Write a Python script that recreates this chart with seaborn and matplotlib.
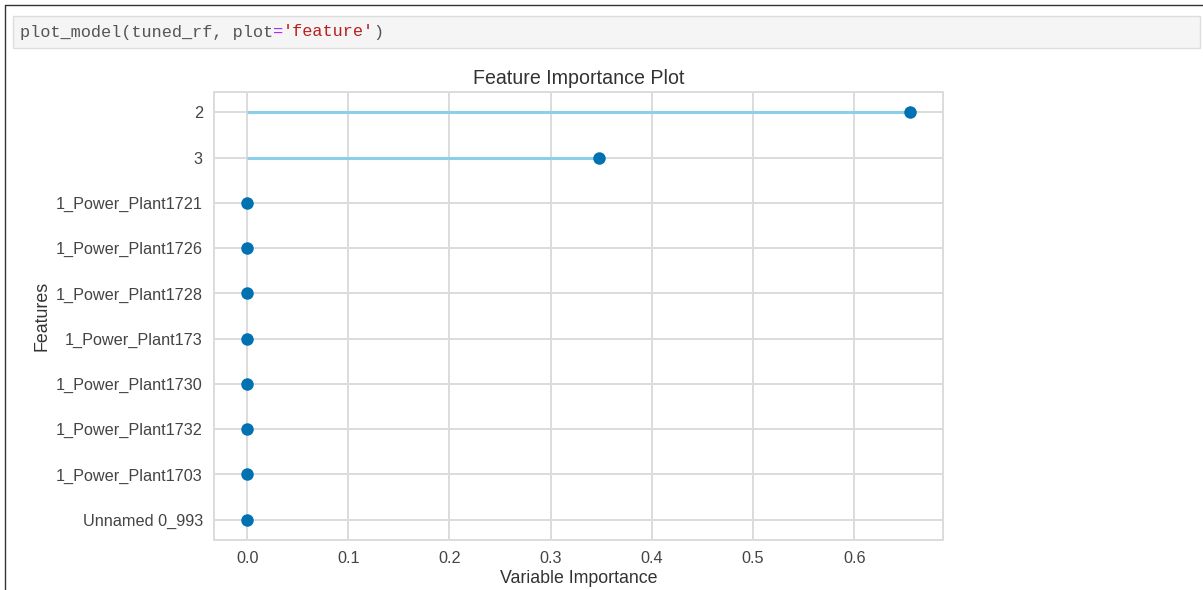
import matplotlib
matplotlib.use("Agg")
import matplotlib.pyplot as plt
from matplotlib.patches import FancyBboxPatch
from matplotlib.lines import Line2D
import seaborn as sns
import pandas as pd

features = ["2", "3", "1_Power_Plant1721", "1_Power_Plant1726", "1_Power_Plant1728",
            "1_Power_Plant173", "1_Power_Plant1730", "1_Power_Plant1732",
            "1_Power_Plant1703", "Unnamed 0_993"]
importance = [0.655, 0.348, 0.0, 0.0, 0.0, 0.0, 0.0, 0.0, 0.0, 0.0]
x_ticks = [0.0, 0.1, 0.2, 0.3, 0.4, 0.5, 0.6]

code_parts = [("plot_model(tuned_rf, plot", "#555555"),
              ("=", "#aa22ff"),
              ("'feature'", "#ba2121"),
              (")", "#555555")]

sns.set_style("whitegrid")
plt.rcParams["font.family"] = ["Liberation Sans", "DejaVu Sans"]

W, H = 1203, 590
fig = plt.figure(figsize=(W / 100, H / 100), dpi=100)
fig.patch.set_facecolor("white")

# notebook cell frame
fig.add_artist(Line2D([5 / W, 5 / W], [0, 1 - 5 / H], color="#333333", lw=1.0))
fig.add_artist(Line2D([5 / W, 1], [1 - 5 / H, 1 - 5 / H], color="#333333", lw=1.0))
fig.add_artist(FancyBboxPatch((13 / W, 1 - 48 / H), (1200 - 13) / W, 32 / H,
                              boxstyle="square,pad=0", facecolor="#f5f5f5",
                              edgecolor="#dddddd", lw=1.0))

# code line in the input cell
char_w = 10.1 / W
x0 = 20 / W
n = 0
for txt, col in code_parts:
    fig.text(x0 + n * char_w, 1 - 32 / H, txt, family="Liberation Mono",
             fontsize=12.2, color=col, va="center", ha="left")
    n += len(txt)

ax = fig.add_axes([214 / W, 1 - 540 / H, (943 - 214) / W, (540 - 92) / H])
df = pd.DataFrame({"Features": features, "Importance": importance})

ax.hlines(y=range(len(features)), xmin=0, xmax=df["Importance"],
          color="#8ccfe8", lw=2.2, zorder=2)
sns.stripplot(data=df, x="Importance", y="Features", orient="h", jitter=False,
              color="#0072B2", size=9, ax=ax, zorder=3, linewidth=0)

span = max(importance)
ax.set_xlim(-0.05 * span, span * 1.05)
ax.set_ylim(len(features) - 0.55, -0.45)
ax.set_xticks(x_ticks)
ax.set_xticklabels([f"{t:.1f}" for t in x_ticks])

ax.grid(True, color="#dcdcdc", lw=1.4)
ax.set_axisbelow(True)
for s in ax.spines.values():
    s.set_color("#dcdcdc")
    s.set_linewidth(1.4)
ax.tick_params(axis="both", labelsize=11.7, colors="#444444", length=0, pad=8)

ax.set_title("Feature Importance Plot", fontsize=14.1, color="#333333", pad=6)
ax.set_xlabel("Variable Importance", fontsize=12.8, color="#333333", labelpad=3)
ax.set_ylabel("Features", fontsize=12.8, color="#333333", labelpad=4)

fig.savefig("out.png", dpi=100)
